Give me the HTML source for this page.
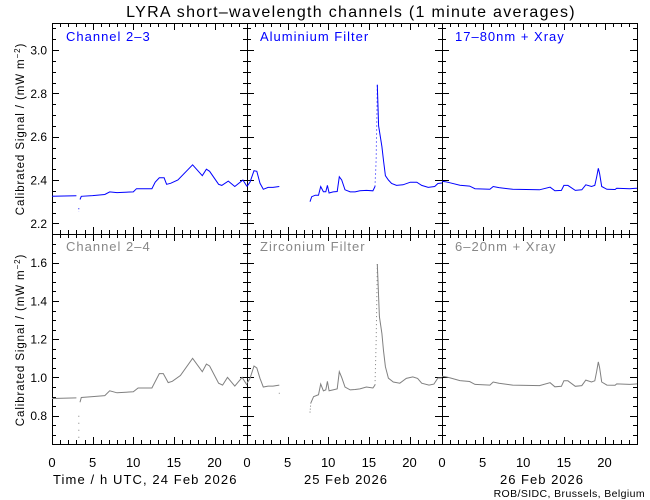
<!DOCTYPE html>
<html><head><meta charset="utf-8"><style>
html,body{margin:0;padding:0;background:#fff;}
svg{display:block;font-family:"Liberation Sans",sans-serif;}
</style></head><body>
<svg id="s" width="650" height="500" viewBox="0 0 650 500" xmlns="http://www.w3.org/2000/svg">
<rect width="650" height="500" fill="#fff"/>
<text x="351" y="17" font-size="16" letter-spacing="1.3" text-anchor="middle">LYRA short–wavelength channels (1 minute averages)</text>
<g font-size="13" fill="#0000ff" letter-spacing="1">
<text x="66" y="41">Channel 2–3</text>
<text x="260" y="41">Aluminium Filter</text>
<text x="455" y="41">17–80nm + Xray</text>
</g>
<g font-size="13" fill="#888" letter-spacing="1">
<text x="66" y="251">Channel 2–4</text>
<text x="260" y="251">Zirconium Filter</text>
<text x="455" y="251">6–20nm + Xray</text>
</g>
<g font-size="12" text-anchor="end" id="ylab"></g>
<text transform="translate(24,129) rotate(-90)" font-size="11.5" letter-spacing="0.9" text-anchor="middle">Calibrated Signal / (mW m<tspan dy="-4" font-size="8">−2</tspan><tspan dy="4">)</tspan></text>
<text transform="translate(24,340) rotate(-90)" font-size="11.5" letter-spacing="0.9" text-anchor="middle">Calibrated Signal / (mW m<tspan dy="-4" font-size="8">−2</tspan><tspan dy="4">)</tspan></text>
<g font-size="13" text-anchor="middle">
<text x="52" y="467">0</text><text x="92.6" y="467">5</text><text x="133.2" y="467">10</text><text x="173.9" y="467">15</text><text x="214.5" y="467">20</text>
<text x="247" y="467">0</text><text x="287.6" y="467">5</text><text x="328.2" y="467">10</text><text x="368.9" y="467">15</text><text x="409.5" y="467">20</text>
<text x="442" y="467">0</text><text x="482.6" y="467">5</text><text x="523.2" y="467">10</text><text x="563.9" y="467">15</text><text x="604.5" y="467">20</text>
<text x="346" y="484" letter-spacing="1">25 Feb 2026</text>
<text x="542" y="484" letter-spacing="1">26 Feb 2026</text>
</g>
<text x="53" y="484" font-size="13" letter-spacing="1.1">Time / h UTC, 24 Feb 2026</text>
<text x="645" y="497" font-size="10.5" letter-spacing="0.4" text-anchor="end">ROB/SIDC, Brussels, Belgium</text>
<g id="axes" stroke="#000" stroke-width="1" fill="none" shape-rendering="crispEdges"></g>
<g id="data" fill="none" stroke-width="1"></g>
</svg>
<script>
var NS="http://www.w3.org/2000/svg";
function el(p,t,a){var e=document.createElementNS(NS,t);for(var k in a)e.setAttribute(k,a[k]);p.appendChild(e);return e;}
var ax=document.getElementById('axes'),dg=document.getElementById('data');
var L=[52,247,442,637];
function yT(v){return 50+(3.0-v)*216.67;}
function yB(v){return 262.7+(1.6-v)*191.25;}
var d="";
el(ax,'rect',{x:52.5,y:23.5,width:585,height:421});
d+="M52 234.5H637 M247.5 23V444 M442.5 23V444";
for(var p=0;p<3;p++){
 var x0=L[p],x1=L[p+1];
 for(var h=1;h<24;h++){
  var x=Math.round(x0+h*195/24)+0.5,len=(h%5==0)?7:4;
  [[23,1],[234,-1],[234,1],[444,-1]].forEach(function(q){d+="M"+x+" "+q[0]+"v"+(q[1]*len);});
 }
 for(var v=2.15;v<3.13;v+=0.05){
  var y=Math.round(yT(v))+0.5; if(y<24||y>234)continue;
  var maj=Math.abs(Math.round(v*10)%2)==0&&Math.abs(v*10-Math.round(v*10))<0.01;
  var len=maj?7:4; d+="M"+x0+" "+y+"h"+len+"M"+x1+" "+y+"h-"+len;
 }
 for(var v=0.65;v<1.76;v+=0.05){
  var y=Math.round(yB(v))+0.5; if(y<235||y>444)continue;
  var maj=Math.abs(Math.round(v*10)%2)==0&&Math.abs(v*10-Math.round(v*10))<0.01;
  var len=maj?7:4; d+="M"+x0+" "+y+"h"+len+"M"+x1+" "+y+"h-"+len;
 }
}
el(ax,'path',{d:d});
var yl=document.getElementById('ylab');
[2.2,2.4,2.6,2.8,3.0].forEach(function(v){var t=el(yl,'text',{x:47,y:yT(v)+4.5});t.textContent=v.toFixed(1);});
[0.8,1.0,1.2,1.4,1.6].forEach(function(v){var t=el(yl,'text',{x:47,y:yB(v)+4.5});t.textContent=v.toFixed(1);});
function line(p,pts,fy,col,dash){
 var s="";pts.forEach(function(q,i){var x=L[p]+q[0]*195/24;s+=(i?"L":"M")+x.toFixed(1)+" "+fy(q[1]).toFixed(1);});
 var a={d:s,stroke:col};if(dash)a["stroke-dasharray"]=dash;el(dg,'path',a);
}
var BL="#0000ff",GR="#808080";
line(0,[[0,2.325],[3,2.327]],yT,BL);
line(0,[[3.3,2.27],[3.3,2.255]],yT,BL,"1 2");
line(0,[[3.45,2.31],[3.6,2.325],[5,2.328],[6.5,2.333],[7.1,2.345],[8,2.342],[10,2.345],[10.4,2.36],[12.3,2.36],[12.7,2.39],[13.2,2.41],[13.8,2.41],[14.1,2.38],[14.6,2.385],[15.5,2.40],[17.3,2.47],[18.5,2.42],[19,2.45],[19.4,2.44],[20.5,2.38],[20.9,2.375],[21.7,2.395],[22.5,2.37],[23.5,2.40],[24,2.37]],yT,BL);
line(1,[[0,2.37],[0.37,2.39],[0.86,2.443],[1.2,2.44],[1.6,2.385],[2.0,2.357],[2.6,2.366],[3.2,2.366],[3.98,2.37]],yT,BL);
line(1,[[7.75,2.30],[7.96,2.323],[8.4,2.33],[8.8,2.33],[9.07,2.37],[9.4,2.346],[9.7,2.346],[9.9,2.375],[10.1,2.34],[10.6,2.345],[11.1,2.347],[11.36,2.415],[11.65,2.40],[12.06,2.355],[12.7,2.345],[13.3,2.345],[13.9,2.35],[14.7,2.352],[15.5,2.35],[15.75,2.37]],yT,BL);
line(1,[[15.75,2.37],[15.9,2.5],[16.04,2.84]],yT,BL,"1 3");
line(1,[[16.04,2.84],[16.2,2.65],[16.6,2.554],[16.8,2.49],[17.04,2.42],[17.4,2.40],[17.8,2.384],[18.4,2.375],[19.2,2.378],[20.1,2.39],[20.9,2.39],[21.5,2.375],[22.3,2.366],[23.1,2.37],[23.5,2.384],[24,2.386]],yT,BL);
var P3=[[0,2.394],[0.4,2.392],[1.0,2.387],[2.2,2.376],[3.4,2.372],[4.06,2.36],[5.9,2.357],[6.3,2.37],[7,2.365],[8.7,2.357],[12,2.355],[13.3,2.367],[13.9,2.35],[14.7,2.352],[15.0,2.375],[15.5,2.375],[16.4,2.352],[17.2,2.355],[17.7,2.378],[18.4,2.37],[18.8,2.375],[19.04,2.415],[19.24,2.454],[19.4,2.43],[19.65,2.37],[20.3,2.357],[21.3,2.356],[21.5,2.362],[23.1,2.36],[24,2.362]];
line(2,P3,yT,BL);
line(0,[[0,0.89],[3,0.893]],yB,GR);
line(0,[[3.3,0.8],[3.3,0.685]],yB,GR,"1 6");
line(0,[[3.45,0.87],[3.6,0.895],[5,0.9],[6.5,0.905],[7.1,0.93],[8,0.92],[10,0.925],[10.6,0.945],[12.3,0.945],[13.2,1.02],[13.7,1.02],[14.3,0.973],[14.8,0.98],[15.8,1.01],[17.3,1.10],[18.5,1.03],[19,1.07],[19.4,1.06],[20.5,0.97],[21,0.96],[21.6,1.0],[22.5,0.955],[23.4,1.0],[24,0.96]],yB,GR);
line(1,[[0,0.97],[0.37,0.995],[0.86,1.06],[1.2,1.05],[1.6,0.995],[2.0,0.95],[2.6,0.955],[3.2,0.955],[3.98,0.96]],yB,GR);
line(1,[[3.98,0.92],[3.98,0.915]],yB,GR);
line(1,[[7.75,0.816],[7.85,0.866]],yB,GR,"1 2");
line(1,[[7.85,0.866],[8.2,0.9],[8.8,0.91],[9.07,0.966],[9.4,0.93],[9.7,0.935],[9.9,0.98],[10.1,0.93],[10.6,0.935],[11.1,0.94],[11.36,1.03],[11.65,1.0],[12.06,0.95],[12.7,0.935],[13.3,0.937],[13.9,0.94],[14.7,0.95],[15.5,0.945],[15.75,0.96]],yB,GR);
line(1,[[15.75,0.96],[15.9,1.2],[16.04,1.593]],yB,GR,"1 3");
line(1,[[16.04,1.593],[16.3,1.318],[16.6,1.23],[16.8,1.14],[17.04,1.056],[17.4,0.996],[18,0.976],[18.8,0.97],[19.6,0.995],[20.4,1.003],[21,0.995],[21.5,0.97],[22.4,0.96],[23,0.965],[23.5,0.997],[24,0.997]],yB,GR);
line(2,P3.map(function(q){return [q[0],0.96+(q[1]-2.357)*1.25];}),yB,GR);
</script>
</body></html>
